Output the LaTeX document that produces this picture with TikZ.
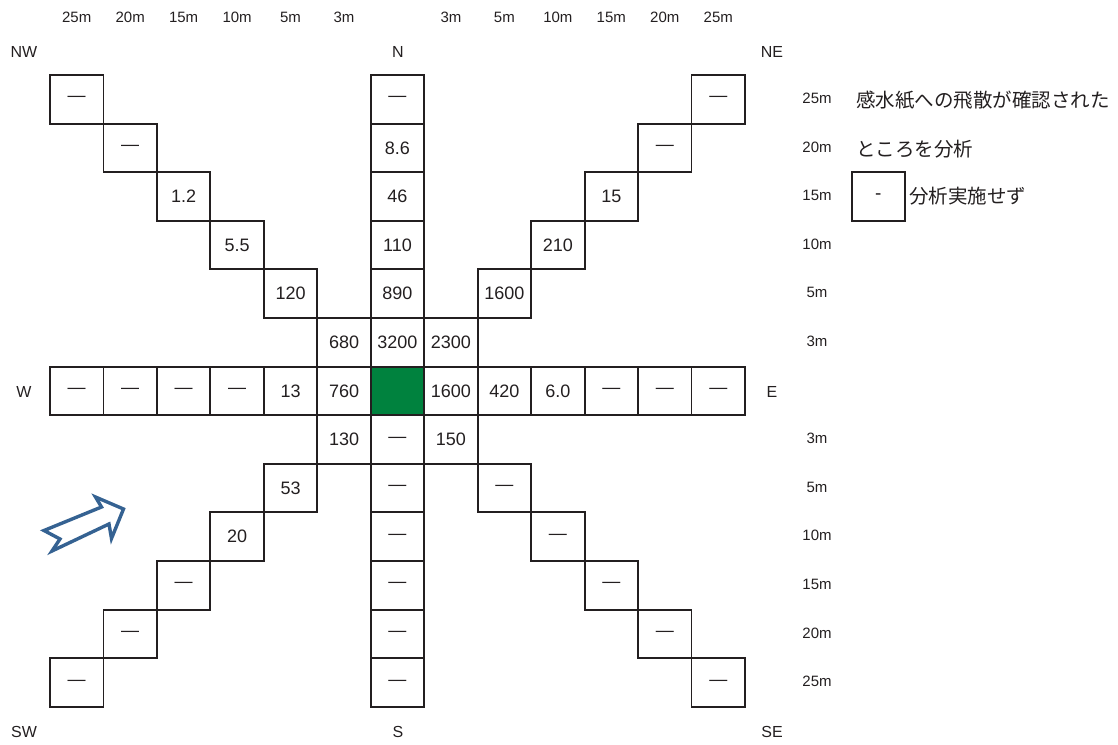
\documentclass[tikz,border=0pt]{standalone}
\usepackage{fontspec}
\setmainfont{Liberation Sans}
\newfontfamily\jpfont{Noto Sans CJK JP}
\definecolor{gridline}{RGB}{35,31,32}
\definecolor{fillgreen}{RGB}{0,130,62}
\definecolor{arrowblue}{RGB}{53,98,146}
\newcommand\nd{—}
\tikzset{
  cellbox/.style={draw=gridline, line width=1.9pt, minimum width=53.46pt, minimum height=48.6pt, inner sep=0pt, font=\fontsize{18}{18}\selectfont, text=gridline},
  greencell/.style={cellbox, fill=fillgreen},
  dist/.style={font=\fontsize{15}{15}\selectfont, text=gridline, inner sep=0pt},
  compass/.style={font=\fontsize{16}{16}\selectfont, text=gridline, inner sep=0pt},
  jp/.style={font=\jpfont\fontsize{19.5}{19.5}\selectfont, text=gridline, inner sep=0pt, anchor=west},
  windarrow/.style={draw=arrowblue, line width=3.4pt, line join=miter, fill=white}
}
\newcommand\cell[4]{\node[cellbox] (#1) at ({50+53.46*(#2+0.5)},{75+48.6*(#3+0.5)}) {#4};}
\begin{document}
\begin{tikzpicture}[x=1pt,y=-1pt]
\useasboundingbox (0,0) rectangle (1118,744);
% column headers
\foreach \t/\i in {25m/0,20m/1,15m/2,10m/3,5m/4,3m/5,3m/7,5m/8,10m/9,15m/10,20m/11,25m/12}
  \node[dist] (top\i) at ({50+53.46*(\i+0.5)},17) {\t};
% row labels on the right
\foreach \t/\j in {25m/0,20m/1,15m/2,10m/3,5m/4,3m/5,3m/7,5m/8,10m/9,15m/10,20m/11,25m/12}
  \node[dist] (rt\j) at (817,{75+48.6*(\j+0.5)-1}) {\t};
% compass
\node[compass] (NW) at (24,52) {NW};
\node[compass] (N) at (398,52) {N};
\node[compass] (NE) at (772,52) {NE};
\node[compass] (W) at (24,392) {W};
\node[compass] (E) at (772,392) {E};
\node[compass] (SW) at (24,732) {SW};
\node[compass] (S) at (398,732) {S};
\node[compass] (SE) at (772,732) {SE};
% cells
\cell{c0-0}{0}{0}{\nd} \cell{c6-0}{6}{0}{\nd} \cell{c12-0}{12}{0}{\nd}
\cell{c1-1}{1}{1}{\nd} \cell{c6-1}{6}{1}{8.6} \cell{c11-1}{11}{1}{\nd}
\cell{c2-2}{2}{2}{1.2} \cell{c6-2}{6}{2}{46} \cell{c10-2}{10}{2}{15}
\cell{c3-3}{3}{3}{5.5} \cell{c6-3}{6}{3}{110} \cell{c9-3}{9}{3}{210}
\cell{c4-4}{4}{4}{120} \cell{c6-4}{6}{4}{890} \cell{c8-4}{8}{4}{1600}
\cell{c5-5}{5}{5}{680} \cell{c6-5}{6}{5}{3200} \cell{c7-5}{7}{5}{2300}
\cell{c0-6}{0}{6}{\nd} \cell{c1-6}{1}{6}{\nd} \cell{c2-6}{2}{6}{\nd} \cell{c3-6}{3}{6}{\nd}
\cell{c4-6}{4}{6}{13} \cell{c5-6}{5}{6}{760}
\node[greencell] (c6-6) at ({50+53.46*6.5},{75+48.6*6.5}) {};
\cell{c7-6}{7}{6}{1600} \cell{c8-6}{8}{6}{420} \cell{c9-6}{9}{6}{6.0}
\cell{c10-6}{10}{6}{\nd} \cell{c11-6}{11}{6}{\nd} \cell{c12-6}{12}{6}{\nd}
\cell{c5-7}{5}{7}{130} \cell{c6-7}{6}{7}{\nd} \cell{c7-7}{7}{7}{150}
\cell{c4-8}{4}{8}{53} \cell{c6-8}{6}{8}{\nd} \cell{c8-8}{8}{8}{\nd}
\cell{c3-9}{3}{9}{20} \cell{c6-9}{6}{9}{\nd} \cell{c9-9}{9}{9}{\nd}
\cell{c2-10}{2}{10}{\nd} \cell{c6-10}{6}{10}{\nd} \cell{c10-10}{10}{10}{\nd}
\cell{c1-11}{1}{11}{\nd} \cell{c6-11}{6}{11}{\nd} \cell{c11-11}{11}{11}{\nd}
\cell{c0-12}{0}{12}{\nd} \cell{c6-12}{6}{12}{\nd} \cell{c12-12}{12}{12}{\nd}
% legend
\node[jp] (leg1) at (856,100) {感水紙への飛散が確認された};
\node[jp] (leg2) at (856,149) {ところを分析};
\node[cellbox, font=\fontsize{19}{19}\selectfont] (legbox) at (878.3,196.4) {-};
\node[jp] (leg3) at (909,196) {分析実施せず};
% wind arrow
\draw[windarrow] (44,530.5) -- (101.5,507) -- (95.5,497) -- (123.5,509) -- (111.5,538.5) -- (109,524) -- (52,551) -- (60,539) -- cycle;
\end{tikzpicture}
\end{document}
